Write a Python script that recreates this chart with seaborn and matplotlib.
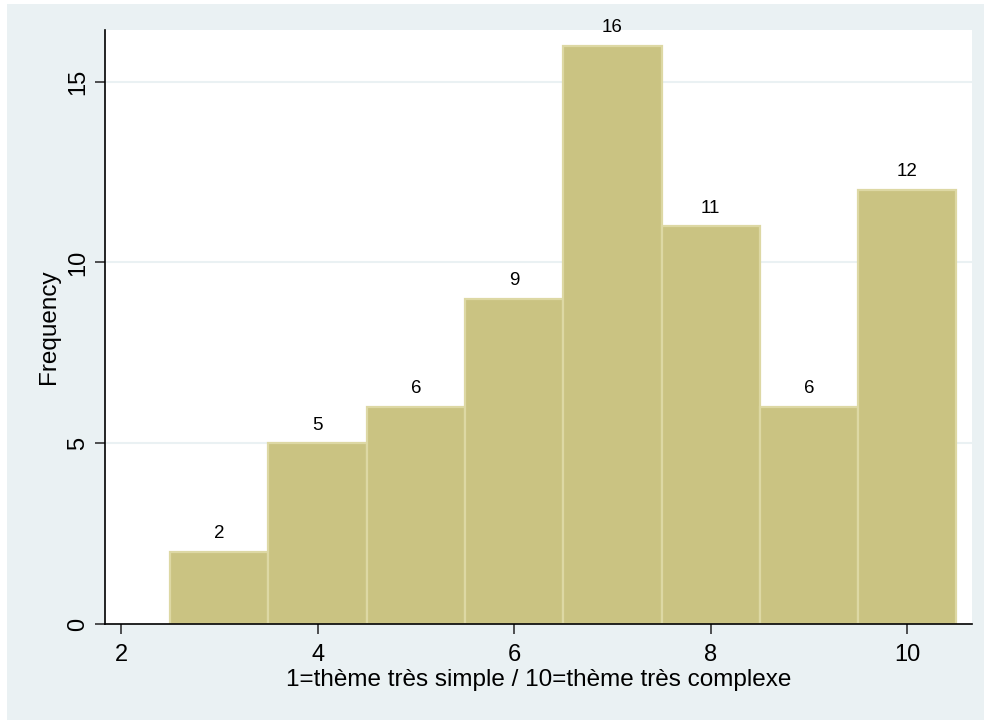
import numpy as np
import pandas as pd
import seaborn as sns
import matplotlib.pyplot as plt
from matplotlib.patches import Rectangle

# histogram counts
scores = [3, 4, 5, 6, 7, 8, 9, 10]
counts = [2, 5, 6, 9, 16, 11, 6, 12]
xticks = [2, 4, 6, 8, 10]
yticks = [0, 5, 10, 15]

df = pd.DataFrame({'score': scores, 'n': counts})

sns.set_style('white')
plt.rcParams['font.family'] = ['Liberation Sans', 'DejaVu Sans']
plt.rcParams['text.color'] = 'black'
plt.rcParams['axes.labelcolor'] = 'black'
plt.rcParams['xtick.color'] = 'black'
plt.rcParams['ytick.color'] = 'black'

bg = '#EAF1F3'
fig = plt.figure(figsize=(9.84, 7.2), dpi=100, facecolor='white')
# stata-like outer region (screenshot cropped a bit on left/top)
fig.patches.append(Rectangle((7 / 984, 0), 1, 716 / 720, transform=fig.transFigure,
                             facecolor=bg, edgecolor='none', zorder=-1))
ax = fig.add_axes([105 / 984, 96 / 720, 867 / 984, 594 / 720])
ax.set_facecolor('white')

sns.histplot(data=df, x='score', weights='n', discrete=True, ax=ax,
             color='#CAC382', alpha=1, edgecolor='#DDD8A4', linewidth=1.6, zorder=3)

for c in ax.containers:
    ax.bar_label(c, labels=[str(v) for v in counts], padding=7, fontsize=13.5,
                 color='black', clip_on=False)

ax.set_xlim(1.837, 10.658)
ax.set_ylim(0, 16.43)
ax.set_xticks(xticks)
ax.set_yticks(yticks)
ax.set_yticklabels([str(v) for v in yticks], rotation=90, va='center')
ax.tick_params(axis='both', bottom=True, left=True, labelsize=17, length=7.5, width=1.2,
               color='#333333', labelcolor='black', direction='out')
ax.tick_params(axis='x', pad=7)
ax.tick_params(axis='y', pad=4)

for v in yticks[1:]:
    ax.axhline(v, color=bg, linewidth=1.5, zorder=1)

for s in ['top', 'right']:
    ax.spines[s].set_visible(False)
for s in ['left', 'bottom']:
    ax.spines[s].set_color('black')
    ax.spines[s].set_linewidth(1.2)
    ax.spines[s].set_zorder(5)

ax.set_xlabel('1=thème très simple / 10=thème très complexe', fontsize=17.5, labelpad=2)
ax.set_ylabel('Frequency', fontsize=17.5, labelpad=5)

fig.savefig('out.png', dpi=100, facecolor='white')
